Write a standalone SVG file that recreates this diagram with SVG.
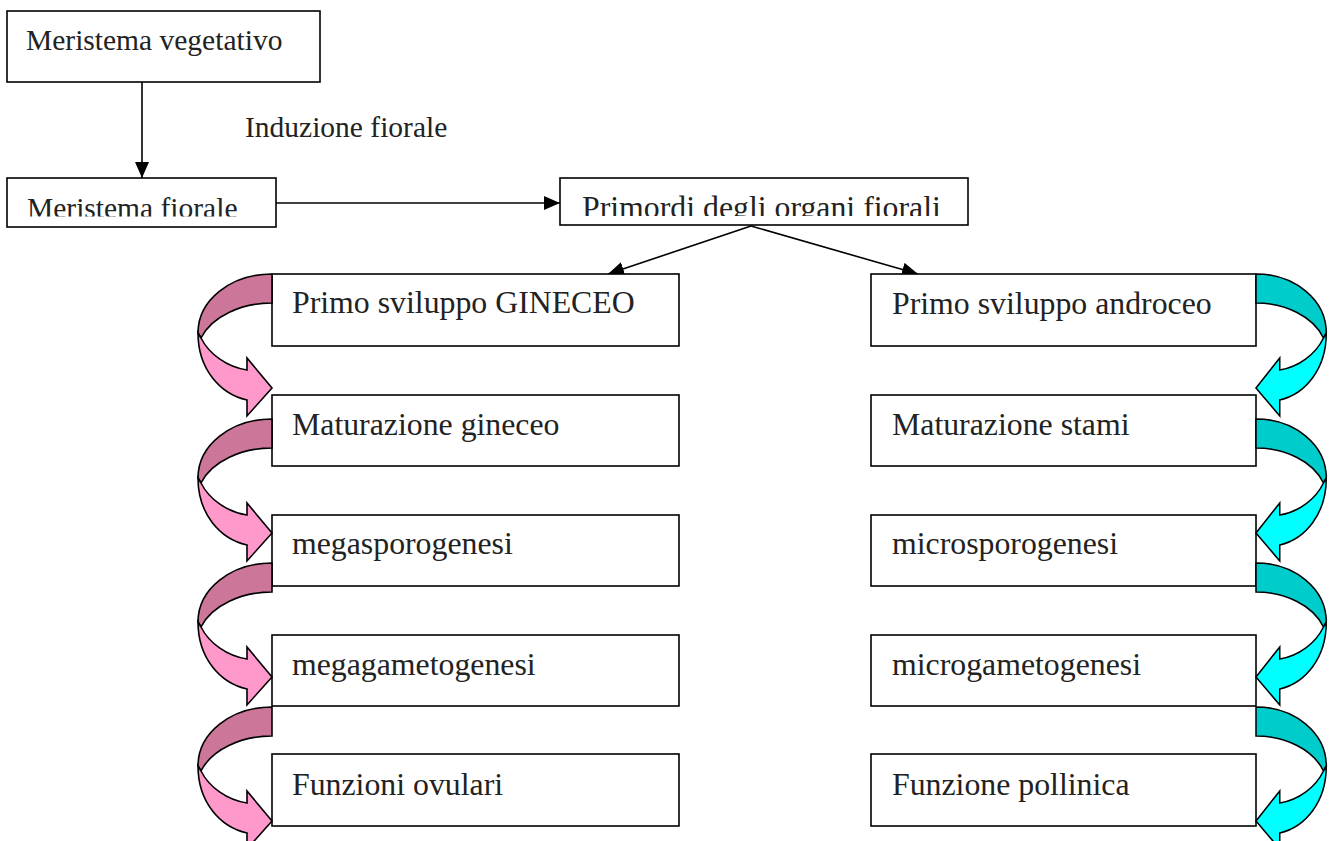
<svg xmlns="http://www.w3.org/2000/svg" xmlns:xlink="http://www.w3.org/1999/xlink" width="1335" height="841" viewBox="0 0 1335 841">
<style>
.box{fill:#fff;stroke:#000;stroke-width:1.6}
.t{font-family:"Liberation Serif","Times New Roman",serif;font-size:29.5px;fill:#222}
.tb{font-family:"Liberation Serif","Times New Roman",serif;font-size:31.8px;fill:#222}
.ln{stroke:#000;stroke-width:1.6;fill:none}
.ah{fill:#000}
.cv{stroke:#000;stroke-width:1.6;stroke-linejoin:miter}
</style>
<defs>
<marker id="tri" markerWidth="16" markerHeight="14" refX="16" refY="7" orient="auto" markerUnits="userSpaceOnUse">
<path d="M0,0 L16,7 L0,14 Z" class="ah"/>
</marker>
<clipPath id="c1"><rect x="7" y="178" width="270" height="38.5"/></clipPath>
<clipPath id="c2"><rect x="560" y="178" width="408" height="38"/></clipPath>
<g id="arrL">
<path class="cv" fill="#CC7799" d="M0,0 C-41,0 -74,26 -74,59 L-71,64 C-60,42 -30,29 0,29 Z"/>
<path class="cv" fill="#FF99CC" d="M-74,59 C-74,95 -52,120 -25,126 L-25,142 L0,114 L-25,84 L-25,96 C-45,93 -63,80 -71,64 Z"/>
</g>
<g id="arrR">
<path class="cv" fill="#00CCCC" d="M0,0 C-41,0 -74,26 -74,59 L-71,64 C-60,42 -30,29 0,29 Z"/>
<path class="cv" fill="#00FFFF" d="M-74,59 C-74,95 -52,120 -25,126 L-25,142 L0,114 L-25,84 L-25,96 C-45,93 -63,80 -71,64 Z"/>
</g>
</defs>

<g id="connectors">
<line class="ln" x1="142" y1="82" x2="142" y2="178" marker-end="url(#tri)"/>
<line class="ln" x1="276" y1="203" x2="560" y2="203" marker-end="url(#tri)"/>
<line class="ln" x1="751" y1="226" x2="608" y2="274" marker-end="url(#tri)"/>
<line class="ln" x1="751" y1="226" x2="918" y2="274" marker-end="url(#tri)"/>
</g>

<g id="n-veg"><rect class="box" x="7" y="11" width="313" height="71"/><text class="t" x="26" y="50">Meristema vegetativo</text></g>
<g id="l-induzione"><text class="t" x="245" y="137">Induzione fiorale</text></g>
<g id="n-fiorale"><rect class="box" x="7" y="178" width="269" height="49"/><text class="t" x="27" y="218" clip-path="url(#c1)">Meristema fiorale</text></g>
<g id="n-primordi"><rect class="box" x="560" y="178" width="408" height="47"/><text class="tb" x="582" y="217.5" clip-path="url(#c2)">Primordi degli organi fiorali</text></g>

<g id="n-g1"><rect class="box" x="272" y="274" width="407" height="72"/><text class="tb" x="292" y="313">Primo sviluppo GINECEO</text></g>
<g id="n-g2"><rect class="box" x="272" y="395" width="407" height="71"/><text class="tb" x="292" y="435">Maturazione gineceo</text></g>
<g id="n-g3"><rect class="box" x="272" y="515" width="407" height="71"/><text class="tb" x="292" y="554">megasporogenesi</text></g>
<g id="n-g4"><rect class="box" x="272" y="635" width="407" height="71"/><text class="tb" x="292" y="675">megagametogenesi</text></g>
<g id="n-g5"><rect class="box" x="272" y="754" width="407" height="72"/><text class="tb" x="292" y="795">Funzioni ovulari</text></g>

<g id="n-a1"><rect class="box" x="871" y="274" width="385" height="72"/><text class="tb" x="892" y="314">Primo sviluppo androceo</text></g>
<g id="n-a2"><rect class="box" x="871" y="395" width="385" height="71"/><text class="tb" x="892" y="435">Maturazione stami</text></g>
<g id="n-a3"><rect class="box" x="871" y="515" width="385" height="71"/><text class="tb" x="892" y="554">microsporogenesi</text></g>
<g id="n-a4"><rect class="box" x="871" y="635" width="385" height="71"/><text class="tb" x="892" y="675">microgametogenesi</text></g>
<g id="n-a5"><rect class="box" x="871" y="754" width="385" height="72"/><text class="tb" x="892" y="795">Funzione pollinica</text></g>

<g id="curved-left">
<use xlink:href="#arrL" transform="translate(272,274)"/>
<use xlink:href="#arrL" transform="translate(272,419)"/>
<use xlink:href="#arrL" transform="translate(272,563)"/>
<use xlink:href="#arrL" transform="translate(272,707)"/>
</g>
<g id="curved-right">
<use xlink:href="#arrR" transform="translate(1256,274) scale(-0.95,1)"/>
<use xlink:href="#arrR" transform="translate(1256,419) scale(-0.95,1)"/>
<use xlink:href="#arrR" transform="translate(1256,563) scale(-0.95,1)"/>
<use xlink:href="#arrR" transform="translate(1256,707) scale(-0.95,1)"/>
</g>
</svg>
